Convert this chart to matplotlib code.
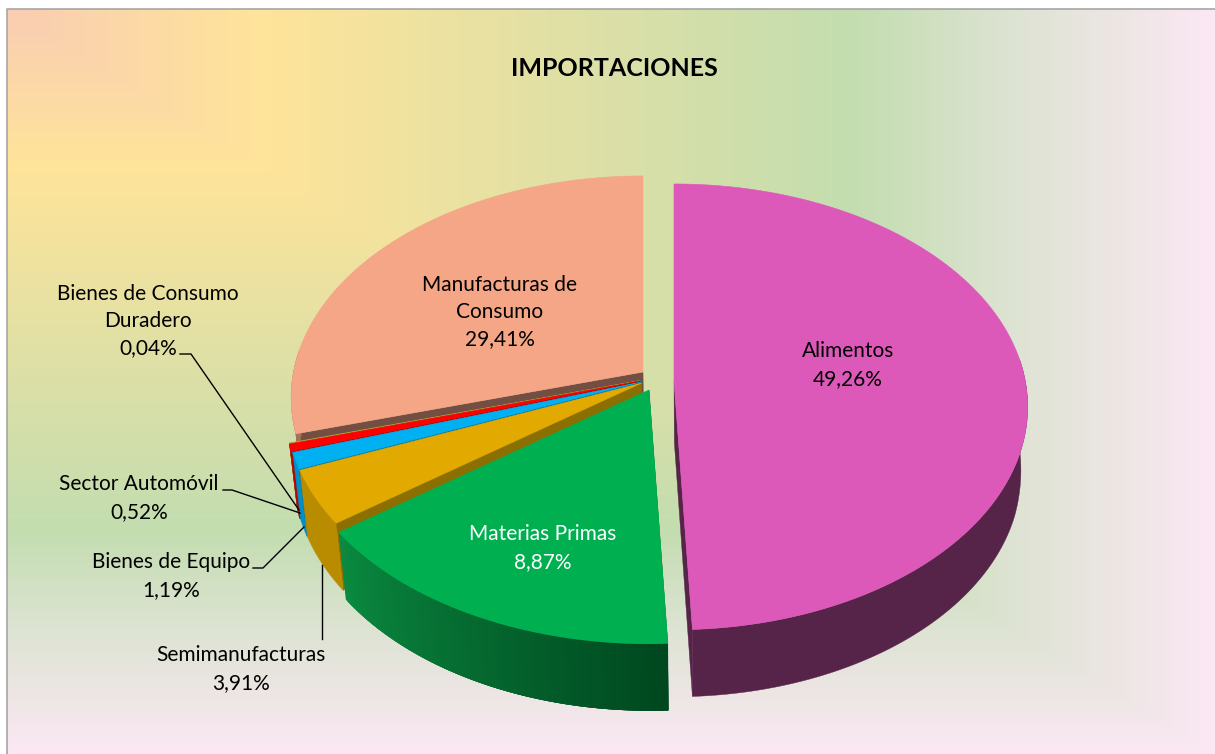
#!/usr/bin/env python3

import numpy as np
import matplotlib as mpl
mpl.use('Agg')
import matplotlib.pyplot as plt

title = 'IMPORTACIONES'

# clockwise from 12 o'clock
categories = ['Alimentos', 'Materias Primas', 'Semimanufacturas', 'Bienes de Equipo',
              'Sector Automóvil', 'Bienes de Consumo\nDuradero', 'Manufacturas de\nConsumo']
# share of the circle each slice really takes in the picture
shares = [49.26, 15.67, 3.91, 1.19, 0.52, 0.04, 29.41]
# printed labels (the green slice is labelled less than it draws)
pct_labels = ['49,26%', '8,87%', '3,91%', '1,19%', '0,52%', '0,04%', '29,41%']

top_colors = ['#DC59B9', '#00B050', '#E2AA00', '#00B0F0', '#FF0000', '#A9A03A', '#F4A687']
wall_colors = ['#562349', '#00803A', '#B98C00', '#0090C8', '#C00000', '#807820', '#A87058']
face_colors = ['#562349', '#00602C', '#8B6F00', '#00648C', '#8C0000', '#807820', '#734F43']

W, H = 1215, 754
R, K, P = 353.0, 221.0, 0.116   # pie radius, squeezed radius, perspective
VANISH_X = 690.0

# where each slice's tip sits, and a small size tweak
tips = [(674, 381), (649, 390), (641.7, 383), (641, 382), (640, 381), (640, 380.5), (643, 372)]
scales = [0.995, 1.015, 1.0, 1.0, 1.0, 1.0, 0.99]


def project(theta, tip, s):
    u, v = np.sin(theta), np.cos(theta)
    w = 1 + P * v
    return tip[0] + s * R * u / w, tip[1] - s * K * v / w


def drop(x, y, v):
    # same point on the underside of the pie
    depth = 67 + 20 * np.minimum(0, -(v + 0.3))
    return VANISH_X + (x - VANISH_X) * 0.98, y + depth


fig = plt.figure(figsize=(W / 100, H / 100), dpi=100)
ax = fig.add_axes([0, 0, 1, 1])
ax.set_xlim(0, W)
ax.set_ylim(H, 0)
ax.axis('off')

# corner gradient behind the chart
gx, gy = np.meshgrid(np.linspace(0, 1, W), np.linspace(0, 1, H))
t = np.maximum(gx, gy)
stops = [0, 0.21, 0.70, 0.83, 1.0]
stop_cols = np.array([mpl.colors.to_rgb(c) for c in ['#F9CDB3', '#FFE49A', '#C3DDB0', '#DDE3D2', '#FBE8F4']])
img = np.dstack([np.interp(t, stops, stop_cols[:, i]) for i in range(3)])
ax.imshow(img, extent=(7, W, H, 9), aspect='auto', interpolation='bilinear', zorder=0)
ax.plot([7, 7, W], [H, 9, 9], color='#A6A6A6', lw=1.2, zorder=1)

ends = np.cumsum(shares) / 100 * 2 * np.pi
starts = ends - np.array(shares) / 100 * 2 * np.pi

order = [6, 5, 4, 3, 2, 0, 1]
z = 2
for i in order:
    a0, a1 = starts[i], ends[i]
    tip, s = tips[i], scales[i]
    th = np.linspace(a0, a1, max(int(4 * np.degrees(a1 - a0)), 2) + 1)
    x, y = project(th, tip, s)
    xb, yb = drop(x, y, np.cos(th))
    tx, ty = drop(np.array(tip[0]), np.array(tip[1]), np.array(0.0))

    # cut face: trailing edge for the big right slice, leading edge for the rest
    e = -1 if i == 0 else 0
    ax.fill([tip[0], x[e], xb[e], tx], [tip[1], y[e], yb[e], ty],
            color=face_colors[i], lw=0.3, zorder=z)
    z += 1

    # outer wall, only the part turned towards the viewer
    front = np.cos(th) < 0.1
    if i == 1:
        # green wall darkens to the right, quads overlap so no seams show
        left, right = np.array(mpl.colors.to_rgb('#0A8A40')), np.array(mpl.colors.to_rgb('#00471F'))
        n = len(th) - 1
        for j in range(n - 1, -1, -1):
            c = left + (right - left) * (1 - j / (n - 1))
            k = max(j - 3, 0)
            ax.fill([x[k], x[j + 1], xb[j + 1], xb[k]], [y[k], y[j + 1], yb[j + 1], yb[k]],
                    color=c, lw=0, zorder=z)
    elif front.sum() > 1:
        ax.fill(np.r_[x[front], xb[front][::-1]], np.r_[y[front], yb[front][::-1]],
                color=wall_colors[i], lw=0.3, zorder=z)
    z += 1

    ax.fill(np.r_[tip[0], x], np.r_[tip[1], y], color=top_colors[i], lw=0.4, zorder=z)
    z += 1

# leader lines of the small slices
leaders = [([180, 191, 299], [354, 354, 510]),
           ([223, 232, 300], [490, 490, 513]),
           ([253, 263, 304], [568, 568, 527]),
           ([322, 322], [565, 639])]
for lx, ly in leaders:
    ax.plot(lx, ly, color='black', lw=1, zorder=z)

font = 'Lato'
text_pos = [(848, 365), (543, 548), (241, 669), (171, 576), (139, 498), (148, 321), (500, 312)]
for i, (px, py) in enumerate(text_pos):
    col = 'white' if i == 1 else 'black'
    ax.text(px, py, categories[i] + '\n' + pct_labels[i], ha='center', va='center', fontsize=15,
            family=font, color=col, linespacing=1.45, zorder=z + 1)

ax.text(614, 69, title, ha='center', va='center', fontsize=18, fontweight='bold', family=font,
        color='black', zorder=z + 1)

fig.savefig('out.png', dpi=100)
